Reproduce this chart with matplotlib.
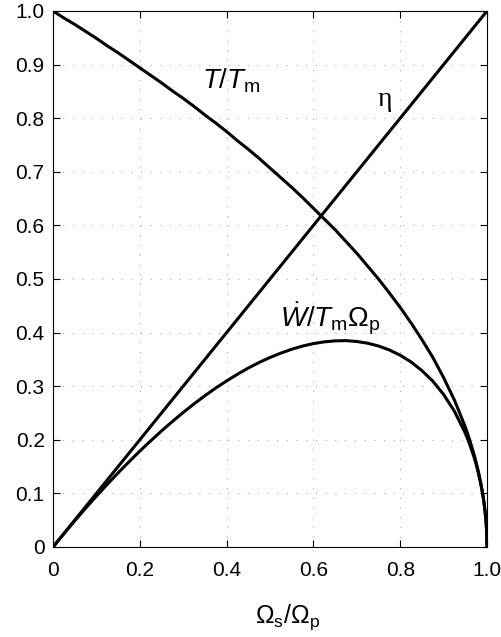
import matplotlib
matplotlib.use("Agg")
import matplotlib.pyplot as plt

plt.rcParams['font.family'] = ['Liberation Sans', 'DejaVu Sans']
plt.rcParams['mathtext.fontset'] = 'custom'
plt.rcParams['mathtext.rm'] = 'Liberation Sans'
plt.rcParams['mathtext.it'] = 'Liberation Sans:italic'
plt.rcParams['mathtext.bf'] = 'Liberation Sans:bold'

# speed ratio Omega_s/Omega_p
speed_ratio = [0.000, 0.025, 0.050, 0.075, 0.100, 0.125, 0.150, 0.175, 0.200, 0.225,
               0.250, 0.275, 0.300, 0.325, 0.350, 0.375, 0.400, 0.425, 0.450, 0.475,
               0.500, 0.525, 0.550, 0.575, 0.600, 0.625, 0.650, 0.675, 0.700, 0.725,
               0.750, 0.775, 0.800, 0.825, 0.850, 0.875, 0.900, 0.925, 0.950, 0.960,
               0.970, 0.975, 0.980, 0.985, 0.990, 0.993, 0.996, 0.998, 0.999, 1.000]
# torque ratio T/Tm
torque_ratio = [1.000, 0.987, 0.975, 0.962, 0.949, 0.935, 0.922, 0.908, 0.894, 0.880,
                0.866, 0.851, 0.837, 0.822, 0.806, 0.791, 0.775, 0.758, 0.742, 0.725,
                0.707, 0.689, 0.671, 0.652, 0.632, 0.612, 0.592, 0.570, 0.548, 0.524,
                0.500, 0.474, 0.447, 0.418, 0.387, 0.354, 0.316, 0.274, 0.224, 0.200,
                0.173, 0.158, 0.141, 0.122, 0.100, 0.084, 0.063, 0.045, 0.032, 0.000]
# power ratio W/(Tm*Omega_p)
power_ratio = [0.000, 0.0247, 0.0488, 0.0722, 0.0949, 0.1169, 0.1383, 0.1589, 0.1789, 0.1980,
               0.2165, 0.2341, 0.2510, 0.2671, 0.2822, 0.2966, 0.3098, 0.3223, 0.3339, 0.3443,
               0.3536, 0.3617, 0.3689, 0.3749, 0.3795, 0.3827, 0.3846, 0.3850, 0.3834, 0.3802,
               0.3750, 0.3676, 0.3578, 0.3452, 0.3291, 0.3095, 0.2846, 0.2532, 0.2125, 0.1920,
               0.1680, 0.1541, 0.1386, 0.1203, 0.0990, 0.0834, 0.0627, 0.0449, 0.0316, 0.000]
# efficiency eta
eta_x = [0.0, 1.0]
eta_y = [0.0, 1.0]

x_ticks = [0, 0.2, 0.4, 0.6, 0.8, 1.0]
x_ticklabels = ['0', '0.2', '0.4', '0.6', '0.8', '1.0']
y_ticks = [0, 0.1, 0.2, 0.3, 0.4, 0.5, 0.6, 0.7, 0.8, 0.9, 1.0]
y_ticklabels = ['0', '0.1', '0.2', '0.3', '0.4', '0.5', '0.6', '0.7', '0.8', '0.9', '1.0']

fig = plt.figure(figsize=(5.01, 6.37), dpi=100)
ax = fig.add_axes([53 / 501, 1 - 547 / 637, 434 / 501, 536 / 637])

lw = 2.2
ax.plot(speed_ratio, torque_ratio, color='black', lw=lw, solid_capstyle='butt')
ax.plot(speed_ratio, power_ratio, color='black', lw=lw, solid_capstyle='butt')
ax.plot(eta_x, eta_y, color='black', lw=lw, solid_capstyle='butt')

ax.set_xlim(0, 1)
ax.set_ylim(0, 1)
ax.set_xticks(x_ticks)
ax.set_xticklabels(x_ticklabels)
ax.set_yticks(y_ticks)
ax.set_yticklabels(y_ticklabels)
ax.tick_params(direction='in', length=5, width=0.8, labelsize=15,
               top=True, right=True)
ax.tick_params(axis='x', pad=10)
ax.tick_params(axis='y', pad=6)
for s in ax.spines.values():
    s.set_linewidth(0.8)

ax.grid(True, color='#999999', linestyle=(0, (1, 9)), linewidth=0.7)

ax.text(0.41, 0.87, r'$T/T_{\mathrm{m}}$', fontsize=20, ha='center', va='center')
ax.text(0.765, 0.835, 'η', fontsize=20, ha='center', va='center',
        family=['Liberation Serif', 'DejaVu Serif'])
ax.text(0.64, 0.425, r'$\dot{W}/T_{\mathrm{m}}\Omega_{\mathrm{p}}$', fontsize=20,
        ha='center', va='center')

ax.text(0.54, -0.104, r'$\Omega_{\mathrm{s}}/\Omega_{\mathrm{p}}$', fontsize=18,
        ha='center', va='top', transform=ax.transAxes)

fig.savefig('out.png', dpi=100)
